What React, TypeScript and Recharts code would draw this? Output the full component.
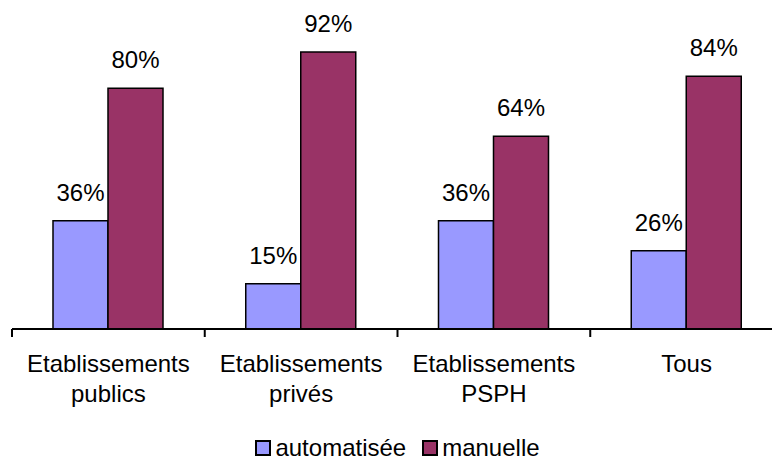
import { BarChart, Bar, XAxis, YAxis, Legend, LabelList } from 'recharts';

const categories = ['Etablissements publics', 'Etablissements privés', 'Etablissements PSPH', 'Tous'];
const automatisee = [36, 15, 36, 26];
const manuelle = [80, 92, 64, 84];

const data = categories.map((name, i) => ({
  name,
  automatisee: automatisee[i],
  manuelle: manuelle[i],
}));

const FONT = '"Liberation Sans", Arial, sans-serif';
const BLUE = '#9999FF';
const PLUM = '#993366';
const CHART_W = 800;
const MARGIN_L = 12;
const MARGIN_R = 17;
const BAND = (CHART_W - MARGIN_L - MARGIN_R) / categories.length;

// two-line category label, tick mark drawn at the left edge of each band
const CategoryTick = ({ x, y, payload }: any) => {
  const label: string = payload.value;
  const idx = label.indexOf(' ');
  const lines = idx > 0 ? [label.slice(0, idx), label.slice(idx + 1)] : [label];
  const left = x - BAND / 2;
  return (
    <g>
      <line x1={left} x2={left} y1={y - 8} y2={y} stroke="#000" strokeWidth={2} />
      <text x={x} y={y + 35} textAnchor="middle" fontSize={24} fontFamily={FONT} fill="#000">
        {lines.map((l, i) => (
          <tspan key={i} x={x} dy={i === 0 ? 0 : 30}>{l}</tspan>
        ))}
      </text>
    </g>
  );
};

const LegendContent = () => (
  <div
    style={{
      display: 'flex',
      justifyContent: 'center',
      alignItems: 'center',
      height: 28,
      lineHeight: '28px',
      fontFamily: FONT,
      fontSize: 24,
      color: '#000',
    }}
  >
    {[
      { name: 'automatisée', color: BLUE },
      { name: 'manuelle', color: PLUM },
    ].map((item, i) => (
      <span key={i} style={{ display: 'flex', alignItems: 'center', marginRight: i === 0 ? 16 : 0 }}>
        <span
          style={{
            display: 'inline-block',
            width: 12,
            height: 12,
            background: item.color,
            border: '2px solid #000',
            marginRight: 4,
          }}
        />
        {item.name}
      </span>
    ))}
  </div>
);

export default function App() {
  return (
    <div style={{ position: 'absolute', left: 0, top: 0, width: 772, height: 462, overflow: 'hidden', background: '#fff' }}>
      <BarChart
        width={CHART_W}
        height={462}
        data={data}
        margin={{ top: 28, right: MARGIN_R, left: MARGIN_L, bottom: 0 }}
        barGap={0}
        barCategoryGap={41}
      >
        <XAxis
          dataKey="name"
          axisLine={{ stroke: '#000', strokeWidth: 2 }}
          tickLine={false}
          tickSize={8}
          tickMargin={0}
          height={105}
          interval={0}
          tick={<CategoryTick />}
        />
        <YAxis hide domain={[0, 100]} />
        <Legend verticalAlign="bottom" content={<LegendContent />} />
        <Bar dataKey="automatisee" name="automatisée" fill={BLUE} stroke="#000" strokeWidth={1.5} isAnimationActive={false}>
          <LabelList
            dataKey="automatisee"
            position="top"
            offset={20}
            formatter={(v: any) => `${v}%`}
            style={{ fontSize: 24, fontFamily: FONT, fill: '#000' }}
          />
        </Bar>
        <Bar dataKey="manuelle" name="manuelle" fill={PLUM} stroke="#000" strokeWidth={1.5} isAnimationActive={false}>
          <LabelList
            dataKey="manuelle"
            position="top"
            offset={20}
            formatter={(v: any) => `${v}%`}
            style={{ fontSize: 24, fontFamily: FONT, fill: '#000' }}
          />
        </Bar>
      </BarChart>
    </div>
  );
}
